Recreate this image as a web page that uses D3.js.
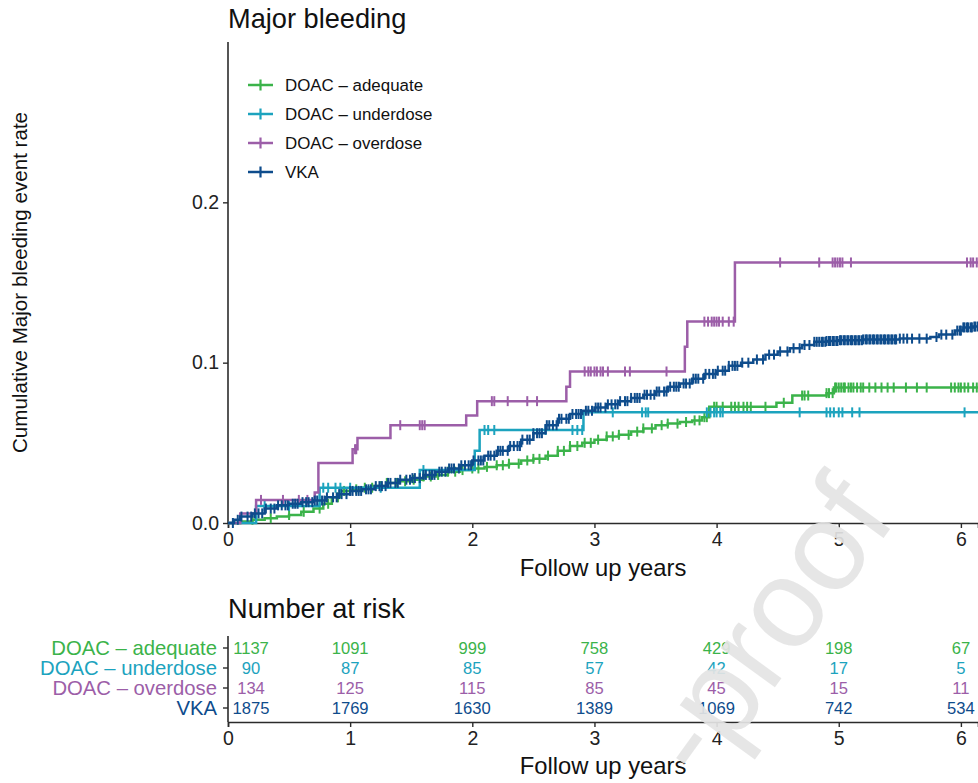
<!DOCTYPE html>
<html>
<head>
<meta charset="utf-8">
<script src="https://cdn.jsdelivr.net/npm/d3@7/dist/d3.min.js"></script>
<style>
  body { margin: 0; background: #fff; }
  text { font-family: "Liberation Sans", Arial, Helvetica, sans-serif; }
</style>
</head>
<body>
<div id="chart"></div>
<script>
// groups, in drawing order (VKA on top)
var groupNames = ["DOAC \u2013 adequate", "DOAC \u2013 underdose", "DOAC \u2013 overdose", "VKA"];
var groupColors = ["#3bb34a", "#1ca3be", "#9c5ea8", "#0e4c8c"];

// step points [years, cumulative event rate]
var adequateSteps = [[0,0],[0.1,0.001],[0.2,0.002],[0.3,0.003],[0.4,0.004],[0.5,0.005],[0.6,0.007],[0.7,0.009],
  [0.78,0.012],[0.85,0.016],[0.92,0.02],[1.0,0.021],[1.1,0.022],[1.2,0.023],[1.3,0.025],[1.4,0.026],[1.5,0.027],
  [1.6,0.029],[1.7,0.03],[1.8,0.032],[1.9,0.033],[2.0,0.034],[2.1,0.035],[2.2,0.036],[2.3,0.037],[2.4,0.039],
  [2.5,0.04],[2.6,0.042],[2.7,0.045],[2.8,0.048],[2.9,0.05],[3.0,0.052],[3.1,0.054],[3.2,0.055],[3.3,0.057],
  [3.4,0.059],[3.5,0.061],[3.6,0.062],[3.7,0.063],[3.8,0.064],[3.88,0.066],[3.94,0.0725],[4.49,0.075],
  [4.62,0.0795],[4.9,0.081],[4.96,0.0845]];
var underdoseSteps = [[0,0],[0.23,0.0106],[0.75,0.022],[1.57,0.033],[2.02,0.045],[2.06,0.058],[2.91,0.069]];
var overdoseSteps = [[0,0],[0.1,0.006],[0.23,0.0144],[0.71,0.019],[0.74,0.0375],[1.02,0.046],[1.06,0.053],
  [1.33,0.061],[1.95,0.067],[2.04,0.076],[2.77,0.085],[2.8,0.0945],[3.74,0.11],[3.76,0.1256],[4.15,0.1625]];
var vkaSteps = [[0,0],[0.05,0.002],[0.1,0.004],[0.2,0.006],[0.3,0.009],[0.4,0.011],[0.5,0.012],[0.6,0.013],
  [0.7,0.014],[0.8,0.016],[0.9,0.018],[1.0,0.02],[1.1,0.021],[1.2,0.023],[1.3,0.025],[1.4,0.027],[1.5,0.028],
  [1.6,0.03],[1.7,0.032],[1.8,0.034],[1.9,0.036],[2.0,0.039],[2.1,0.042],[2.2,0.045],[2.3,0.048],[2.4,0.052],
  [2.5,0.056],[2.6,0.061],[2.7,0.065],[2.8,0.068],[2.9,0.07],[3.0,0.072],[3.1,0.074],[3.2,0.076],[3.3,0.078],
  [3.4,0.08],[3.5,0.082],[3.6,0.085],[3.7,0.087],[3.8,0.09],[3.9,0.093],[4.0,0.095],[4.1,0.098],[4.2,0.1],
  [4.3,0.102],[4.4,0.105],[4.5,0.107],[4.6,0.109],[4.7,0.111],[4.8,0.113],[4.9,0.1135],[5.0,0.114],
  [5.2,0.1145],[5.5,0.115],[5.75,0.116],[5.82,0.1175],[5.95,0.12],[6.02,0.122],[6.1,0.1225]];

// censoring times (the little + marks)
var adequateCensor = [0.2,0.35,0.5,0.62,0.75,0.82,0.9,0.95,1.05,1.12,1.18,1.25,1.3,1.38,1.45,1.52,1.6,1.66,1.72,
  1.8,1.86,1.92,2.0,2.05,2.12,2.2,2.25,2.3,2.38,2.45,2.5,2.55,2.62,2.7,2.75,2.8,2.86,2.92,2.97,3.03,3.1,3.15,3.2,
  3.28,3.35,3.4,3.47,3.55,3.6,3.68,3.75,3.82,3.86,3.9,3.92,3.98,4.0,4.05,4.12,4.15,4.18,4.22,4.25,4.28,4.4,4.55,
  4.7,4.72,4.75,4.9,4.92,4.95,4.97,4.98,5.0,5.02,5.04,5.05,5.08,5.1,5.12,5.15,5.18,5.2,5.25,5.3,5.35,5.4,5.45,
  5.55,5.64,5.72,5.92,5.95,5.98,6.0,6.03,6.06,6.1,6.13];
var underdoseCensor = [0.3,0.5,0.78,0.82,0.88,0.92,1.0,1.25,1.6,2.1,2.13,2.18,2.6,2.82,2.86,2.9,3.15,3.39,3.42,
  3.44,3.92,3.95,3.98,4.0,4.03,4.05,4.68,4.9,4.93,4.96,5.0,5.03,5.11,5.17,6.03];
var overdoseCensor = [0.27,0.45,0.58,0.65,1.04,1.05,1.41,1.57,1.59,1.61,2.16,2.18,2.29,2.45,2.53,2.92,2.95,2.97,
  3.0,3.02,3.05,3.07,3.11,3.25,3.29,3.59,3.9,3.93,3.96,3.98,4.0,4.02,4.05,4.1,4.14,4.52,4.84,4.95,4.97,4.99,
  5.01,5.03,5.1,6.05,6.08,6.1,6.13];
var vkaCensor = [0.04,0.08,0.11,0.16,0.19,0.22,0.25,0.28,0.31,0.35,0.38,0.41,0.44,0.47,0.49,0.53,0.55,0.57,0.61,
  0.64,0.66,0.69,0.71,0.73,0.77,0.79,0.81,0.86,0.89,0.91,0.93,0.97,1.0,1.02,1.05,1.07,1.09,1.13,1.15,1.17,1.21,
  1.24,1.26,1.29,1.31,1.33,1.37,1.39,1.41,1.46,1.49,1.51,1.53,1.57,1.6,1.62,1.65,1.67,1.69,1.73,1.75,1.78,1.81,
  1.83,1.85,1.89,1.91,1.94,1.97,1.99,2.01,2.05,2.07,2.09,2.13,2.15,2.18,2.21,2.23,2.25,2.29,2.31,2.34,2.37,2.39,
  2.41,2.45,2.47,2.5,2.53,2.55,2.57,2.61,2.63,2.66,2.69,2.71,2.73,2.77,2.79,2.82,2.85,2.87,2.89,2.93,2.95,2.98,
  3.01,3.03,3.05,3.09,3.11,3.14,3.17,3.19,3.21,3.25,3.27,3.3,3.33,3.35,3.37,3.41,3.43,3.46,3.49,3.51,3.53,3.57,
  3.59,3.62,3.65,3.67,3.69,3.73,3.75,3.78,3.81,3.83,3.85,3.89,3.91,3.94,3.97,3.99,4.01,4.05,4.07,4.1,4.13,4.15,
  4.17,4.21,4.26,4.33,4.38,4.43,4.47,4.52,4.58,4.63,4.68,4.72,4.76,4.8,4.82,4.84,4.86,4.87,4.89,4.9,4.92,4.93,
  4.95,4.96,4.98,4.99,5.01,5.02,5.04,5.05,5.07,5.08,5.1,5.11,5.13,5.14,5.16,5.17,5.19,5.2,5.22,5.23,5.25,5.26,
  5.28,5.29,5.31,5.32,5.34,5.35,5.37,5.38,5.4,5.41,5.43,5.44,5.46,5.47,5.5,5.53,5.56,5.6,5.66,5.72,5.8,5.84,5.88,
  5.93,5.97,5.99,6.0,6.02,6.03,6.05,6.06,6.08,6.09,6.11,6.12,6.14];

// number at risk table
var riskTimes = [0, 1, 2, 3, 4, 5, 6];
var riskAdequate = [1137, 1091, 999, 758, 429, 198, 67];
var riskUnderdose = [90, 87, 85, 57, 42, 17, 5];
var riskOverdose = [134, 125, 115, 85, 45, 15, 11];
var riskVka = [1875, 1769, 1630, 1389, 1069, 742, 534];

var xTicks = [0, 1, 2, 3, 4, 5, 6];
var yTicks = [0, 0.1, 0.2];

var allSteps = [adequateSteps, underdoseSteps, overdoseSteps, vkaSteps];
var allCensor = [adequateCensor, underdoseCensor, overdoseCensor, vkaCensor];
var allRisk = [riskAdequate, riskUnderdose, riskOverdose, riskVka];

var width = 978, height = 783;
var axisColor = "#2b2b2b";
var fontStack = "'Liberation Sans', Arial, Helvetica, sans-serif";

var svg = d3.select("#chart")
  .append("svg")
    .attr("width", width)
    .attr("height", height);

// scales
var x = d3.scaleLinear().domain([0, 6.14]).range([228, 978]);
var y = d3.scaleLinear().domain([0, 0.3]).range([523, 42]);

// title
svg.append("text")
  .attr("x", 228).attr("y", 28)
  .attr("font-size", 27.2).attr("fill", "#111")
  .text("Major bleeding");

// y axis label
svg.append("text")
  .attr("transform", "translate(27," + ((y.range()[0] + y.range()[1]) / 2) + ") rotate(-90)")
  .attr("text-anchor", "middle")
  .attr("font-size", 20.6).attr("fill", "#111")
  .text("Cumulative Major bleeding event rate");

// y axis
var yAxis = svg.append("g")
  .attr("transform", "translate(228,0)")
  .call(d3.axisLeft(y).tickValues(yTicks).tickFormat(d3.format(".1f")).tickSize(5).tickPadding(4));
yAxis.select(".domain").attr("d", "M0," + y.range()[1] + "V" + y.range()[0]);

// x axis
var xAxis = svg.append("g")
  .attr("transform", "translate(0,523)")
  .call(d3.axisBottom(x).tickValues(xTicks).tickFormat(d3.format("d")).tickSize(5).tickPadding(4));

[yAxis, xAxis].forEach(function(ax) {
  ax.select(".domain").attr("stroke", axisColor).attr("stroke-width", 1.6);
  ax.selectAll(".tick line").attr("stroke", axisColor).attr("stroke-width", 1.4);
  ax.selectAll(".tick text").attr("fill", "#222").attr("font-size", 19.5).attr("font-family", fontStack);
});

svg.append("text")
  .attr("x", (x.range()[0] + x.range()[1]) / 2).attr("y", 576)
  .attr("text-anchor", "middle")
  .attr("font-size", 23.8).attr("fill", "#111")
  .text("Follow up years");

// clip for curves
svg.append("clipPath").attr("id", "plotclip")
  .append("rect").attr("x", 222).attr("y", 30).attr("width", 760).attr("height", 500);

var plot = svg.append("g").attr("clip-path", "url(#plotclip)");

function valueAt(steps, t) {
  var v = 0;
  steps.forEach(function(s) { if (s[0] <= t) v = s[1]; });
  return v;
}

var stepLine = d3.line()
  .x(function(d) { return x(d[0]); })
  .y(function(d) { return y(d[1]); })
  .curve(d3.curveStepAfter);

allSteps.forEach(function(steps, i) {
  var lastT = d3.max(allCensor[i]);
  var pts = steps.slice();
  pts.push([Math.max(lastT, x.domain()[1]), steps[steps.length - 1][1]]);

  plot.append("path")
    .datum(pts)
    .attr("d", stepLine)
    .attr("fill", "none")
    .attr("stroke", groupColors[i])
    .attr("stroke-width", 2.5);

  plot.selectAll(".censor" + i)
    .data(allCensor[i])
    .enter()
    .append("line")
      .attr("class", "censor" + i)
      .attr("x1", function(d) { return x(d); })
      .attr("x2", function(d) { return x(d); })
      .attr("y1", function(d) { return y(valueAt(steps, d)) - 5; })
      .attr("y2", function(d) { return y(valueAt(steps, d)) + 5; })
      .attr("stroke", groupColors[i])
      .attr("stroke-width", 2);
});

// legend
var legend = svg.append("g").attr("transform", "translate(248,85)");
groupNames.forEach(function(name, i) {
  var row = legend.append("g").attr("transform", "translate(0," + (i * 29) + ")");
  row.append("line").attr("x1", 0).attr("x2", 25).attr("y1", 0).attr("y2", 0)
    .attr("stroke", groupColors[i]).attr("stroke-width", 2.5);
  row.append("line").attr("x1", 12.5).attr("x2", 12.5).attr("y1", -5.5).attr("y2", 5.5)
    .attr("stroke", groupColors[i]).attr("stroke-width", 2.2);
  row.append("text").attr("x", 37).attr("y", 0).attr("dy", "0.35em")
    .attr("font-size", 16.9).attr("fill", "#111")
    .text(name);
});

// ---- number at risk table ----
svg.append("text")
  .attr("x", 228).attr("y", 618)
  .attr("font-size", 27.2).attr("fill", "#111")
  .text("Number at risk");

var riskRows = d3.scaleBand().domain(groupNames).range([638, 718]);

var riskYAxis = svg.append("g")
  .attr("transform", "translate(228,0)")
  .call(d3.axisLeft(riskRows).tickSize(5).tickPadding(6));
riskYAxis.select(".domain").attr("d", "M0,636V722");
riskYAxis.selectAll(".tick text")
  .attr("font-size", 20.3)
  .attr("font-family", fontStack)
  .attr("fill", function(d, i) { return groupColors[i]; });

var riskXAxis = svg.append("g")
  .attr("transform", "translate(0,722)")
  .call(d3.axisBottom(x).tickValues(xTicks).tickFormat(d3.format("d")).tickSize(5).tickPadding(4));

[riskYAxis, riskXAxis].forEach(function(ax) {
  ax.select(".domain").attr("stroke", axisColor).attr("stroke-width", 1.6);
  ax.selectAll(".tick line").attr("stroke", axisColor).attr("stroke-width", 1.4);
});
riskXAxis.selectAll(".tick text").attr("fill", "#222").attr("font-size", 19.5).attr("font-family", fontStack);

allRisk.forEach(function(counts, i) {
  svg.selectAll(".risk" + i)
    .data(counts)
    .enter()
    .append("text")
      .attr("class", "risk" + i)
      .attr("x", function(d, j) { return x(riskTimes[j]) + (riskTimes[j] === 0 ? 23 : 0); })
      .attr("y", riskRows(groupNames[i]) + riskRows.bandwidth() / 2)
      .attr("dy", "0.35em")
      .attr("text-anchor", "middle")
      .attr("font-size", 16.6)
      .attr("fill", groupColors[i])
      .text(function(d) { return d; });
});

svg.append("text")
  .attr("x", (x.range()[0] + x.range()[1]) / 2).attr("y", 774)
  .attr("text-anchor", "middle")
  .attr("font-size", 23.8).attr("fill", "#111")
  .text("Follow up years");

// journal watermark running across the corner
svg.append("text")
  .attr("transform", "translate(704,785) rotate(-54)")
  .attr("font-size", 126)
  .attr("fill", "#e4e4e4")
  .attr("fill-opacity", 0.92)
  .text("-proof");
</script>
</body>
</html>
